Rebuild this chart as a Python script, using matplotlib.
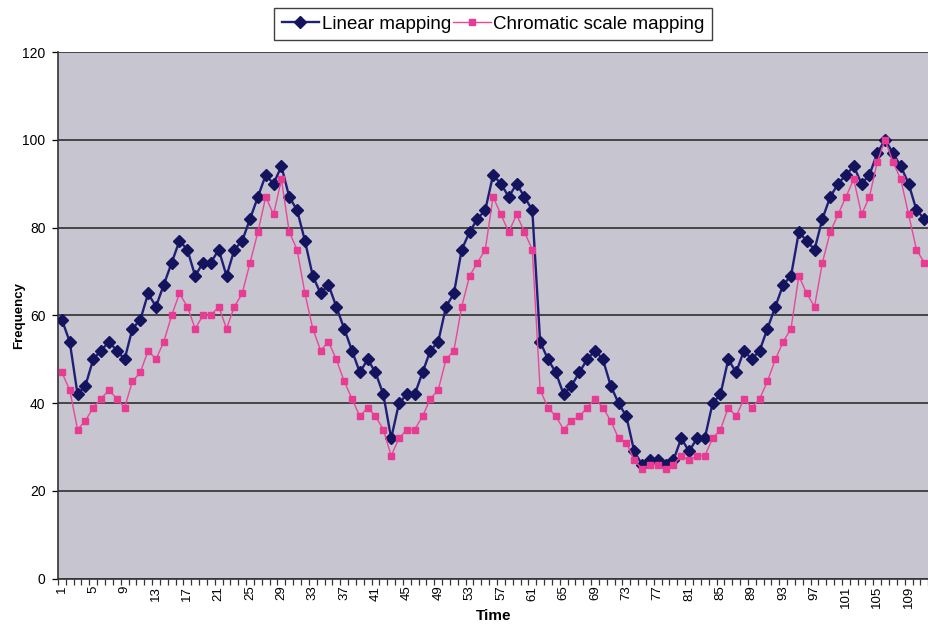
import matplotlib

matplotlib.use("Agg")
import matplotlib.pyplot as plt  # noqa: E402
from matplotlib.ticker import FixedLocator, MultipleLocator  # noqa: E402

plt.rcParams["font.family"] = ["Liberation Sans", "DejaVu Sans"]

# time steps 1..111
time = list(range(1, 112))

linear = [
    59, 54, 42, 44, 50, 52, 54, 52, 50, 57,
    59, 65, 62, 67, 72, 77, 75, 69, 72, 72,
    75, 69, 75, 77, 82, 87, 92, 90, 94, 87,
    84, 77, 69, 65, 67, 62, 57, 52, 47, 50,
    47, 42, 32, 40, 42, 42, 47, 52, 54, 62,
    65, 75, 79, 82, 84, 92, 90, 87, 90, 87,
    84, 54, 50, 47, 42, 44, 47, 50, 52, 50,
    44, 40, 37, 29, 26, 27, 27, 26, 27, 32,
    29, 32, 32, 40, 42, 50, 47, 52, 50, 52,
    57, 62, 67, 69, 79, 77, 75, 82, 87, 90,
    92, 94, 90, 92, 97, 100, 97, 94, 90, 84,
    82,
]

chromatic = [
    47, 43, 34, 36, 39, 41, 43, 41, 39, 45,
    47, 52, 50, 54, 60, 65, 62, 57, 60, 60,
    62, 57, 62, 65, 72, 79, 87, 83, 91, 79,
    75, 65, 57, 52, 54, 50, 45, 41, 37, 39,
    37, 34, 28, 32, 34, 34, 37, 41, 43, 50,
    52, 62, 69, 72, 75, 87, 83, 79, 83, 79,
    75, 43, 39, 37, 34, 36, 37, 39, 41, 39,
    36, 32, 31, 27, 25, 26, 26, 25, 26, 28,
    27, 28, 28, 32, 34, 39, 37, 41, 39, 41,
    45, 50, 54, 57, 69, 65, 62, 72, 79, 83,
    87, 91, 83, 87, 95, 100, 95, 91, 83, 75,
    72,
]

x_labels = list(range(1, 112, 4))

fig = plt.figure(figsize=(9.29, 6.28), dpi=100)
ax = fig.add_axes([0.0624, 0.0785, 0.9376, 0.8385])
ax.set_facecolor("#c6c5d0")

ax.plot(time, linear, color="#1f1f78", linewidth=1.7, marker="D",
        markersize=5.8, markerfacecolor="#14145e", markeredgecolor="#14145e",
        label="Linear mapping", zorder=3)
ax.plot(time, chromatic, color="#e8479a", linewidth=1.0, marker="s",
        markersize=5, markerfacecolor="#e83c93", markeredgecolor="#e83c93",
        label="Chromatic scale mapping", zorder=4)

ax.set_xlim(0.5, 111.6)
ax.set_ylim(0, 120)
ax.set_yticks(range(0, 121, 20))
ax.yaxis.grid(True, color="#222222", linewidth=1.1)
ax.set_axisbelow(True)

# category labels every 4 steps, tick marks between categories
ax.xaxis.set_major_locator(FixedLocator(x_labels))
ax.xaxis.set_minor_locator(MultipleLocator(1, offset=0.5))
ax.tick_params(axis="x", which="major", length=0, labelsize=9.5,
               labelrotation=90, pad=5)
ax.tick_params(axis="x", which="minor", length=4, width=0.9,
               direction="out", color="#333333")
ax.tick_params(axis="y", length=4, width=0.9, labelsize=10, pad=5)

for side in ("top", "right"):
    ax.spines[side].set_visible(False)
for side in ("left", "bottom"):
    ax.spines[side].set_color("#333333")
    ax.spines[side].set_linewidth(1.2)

ax.set_xlabel("Time", fontsize=11, fontweight="bold", labelpad=1)
ax.set_ylabel("Frequency", fontsize=9.5, fontweight="bold", labelpad=-2)

leg = fig.legend(loc="upper center", bbox_to_anchor=(0.531, 0.987), ncol=2,
                 frameon=True, fancybox=False, fontsize=13.5, handlelength=2.0,
                 handletextpad=0.15, columnspacing=0.1, borderpad=0.4,
                 borderaxespad=0)
leg.get_frame().set_edgecolor("#111111")
leg.get_frame().set_linewidth(1.0)

fig.savefig("out.png", dpi=100)
plt.close(fig)
